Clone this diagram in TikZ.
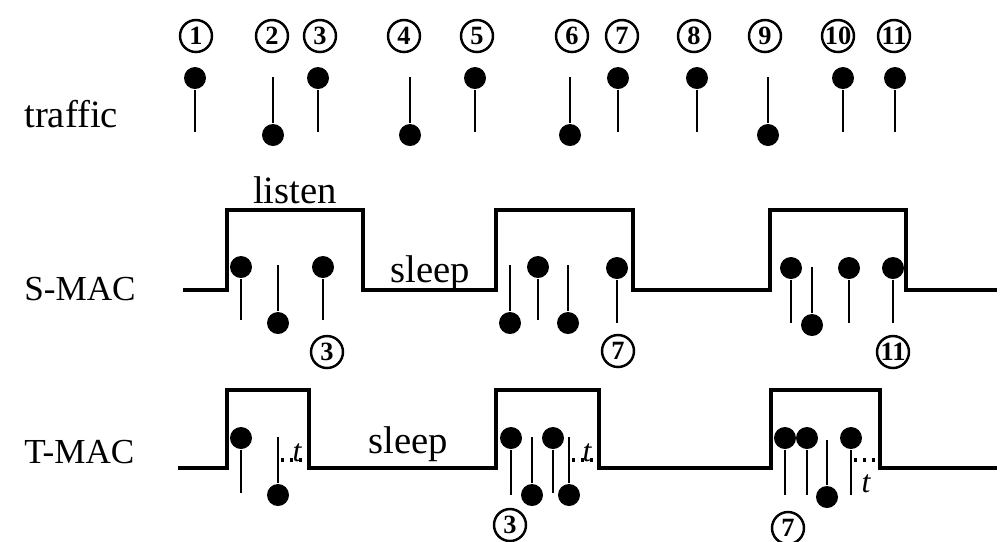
\documentclass[tikz,border=0pt]{standalone}
\usepackage{fontspec}
\setmainfont{Liberation Serif}
\usetikzlibrary{positioning}

\begin{document}
\begin{tikzpicture}[x=0.1mm, y=-0.1mm, line width=0.75pt]

\tikzstyle{b} = [fill, shape=circle, inner sep=0pt, minimum size=2.2mm]
\tikzstyle{n} = [draw, shape=circle, inner sep=0pt, minimum size=3.2mm, line width=0.7pt, font=\fontsize{7.5}{8}\selectfont\bfseries]
\tikzstyle{w} = [line width=1pt]
\tikzstyle{lab} = [anchor=base west, inner sep=0pt, font=\fontsize{10}{12}\selectfont]
\tikzstyle{txt} = [anchor=base, inner sep=0pt, font=\fontsize{11}{13}\selectfont]
\tikzstyle{tt} = [anchor=base, inner sep=0pt, font=\fontsize{9}{10}\selectfont\itshape]
\tikzstyle{d} = [line width=0.9pt, dash pattern=on 0.9pt off 1.6pt]

\useasboundingbox (0,0) rectangle (1003,541);

% row names
\node[lab, font=\fontsize{11}{13}\selectfont] (traffic) at (23,127) {traffic};
\node[lab] (smac) at (23,300) {S-MAC};
\node[lab] (tmac) at (23,463) {T-MAC};

% packet numbers
\node[n] (c1) at (196,36) {1};
\node[n] (c2) at (272,36) {2};
\node[n] (c3) at (320,36) {3};
\node[n] (c4) at (404,36) {4};
\node[n] (c5) at (477,36) {5};
\node[n] (c6) at (572,36) {6};
\node[n] (c7) at (622,36) {7};
\node[n] (c8) at (694,36) {8};
\node[n] (c9) at (765,36) {9};
\node[n] (c10) at (838,36) {10};
\node[n] (c11) at (894,36) {11};

% traffic: ball on top = send, ball below = receive
\node[b] (t1) at (195,78) {};  \coordinate (t1e) at (195,132);  \draw (t1) -- (t1e);
\coordinate (t2s) at (273,77); \node[b] (t2) at (273,135) {};   \draw (t2s) -- (t2);
\node[b] (t3) at (318,78) {};  \coordinate (t3e) at (318,132);  \draw (t3) -- (t3e);
\coordinate (t4s) at (410,77); \node[b] (t4) at (410,135) {};   \draw (t4s) -- (t4);
\node[b] (t5) at (475,78) {};  \coordinate (t5e) at (475,132);  \draw (t5) -- (t5e);
\coordinate (t6s) at (570,77); \node[b] (t6) at (570,135) {};   \draw (t6s) -- (t6);
\node[b] (t7) at (618,78) {};  \coordinate (t7e) at (618,132);  \draw (t7) -- (t7e);
\node[b] (t8) at (697,78) {};  \coordinate (t8e) at (697,132);  \draw (t8) -- (t8e);
\coordinate (t9s) at (768,77); \node[b] (t9) at (768,135) {};   \draw (t9s) -- (t9);
\node[b] (t10) at (843,78) {}; \coordinate (t10e) at (843,132); \draw (t10) -- (t10e);
\node[b] (t11) at (895,78) {}; \coordinate (t11e) at (895,132); \draw (t11) -- (t11e);

% S-MAC: fixed listen/sleep schedule
\draw[w] (183,290) -- (227,290) -- (227,210) -- (363,210) -- (363,290) -- (496,290)
    -- (496,210) -- (633,210) -- (633,290) -- (770,290) -- (770,210) -- (906,210)
    -- (906,290) -- (997,290);
\node[txt] (listen) at (295,203) {listen};
\node[txt] (ssleep) at (430,282) {sleep};

\node[b] (s1) at (241,267) {};  \coordinate (s1e) at (241,320);  \draw (s1) -- (s1e);
\coordinate (s2s) at (278,265); \node[b] (s2) at (278,323) {};   \draw (s2s) -- (s2);
\node[b] (s3) at (323,267) {};  \coordinate (s3e) at (323,320);  \draw (s3) -- (s3e);
\coordinate (s4s) at (510,265); \node[b] (s4) at (510,323) {};   \draw (s4s) -- (s4);
\node[b] (s5) at (538,267) {};  \coordinate (s5e) at (538,320);  \draw (s5) -- (s5e);
\coordinate (s6s) at (568,265); \node[b] (s6) at (568,323) {};   \draw (s6s) -- (s6);
\node[b] (s7) at (617,268) {};  \coordinate (s7e) at (617,323);  \draw (s7) -- (s7e);
\node[b] (s8) at (791,268) {};  \coordinate (s8e) at (791,323);  \draw (s8) -- (s8e);
\coordinate (s9s) at (812,267); \node[b] (s9) at (812,325) {};   \draw (s9s) -- (s9);
\node[b] (s10) at (849,268) {}; \coordinate (s10e) at (849,323); \draw (s10) -- (s10e);
\node[b] (s11) at (893,268) {}; \coordinate (s11e) at (893,323); \draw (s11) -- (s11e);

\node[n] (sc3) at (327,352) {3};
\node[n] (sc7) at (618,351) {7};
\node[n] (sc11) at (893,352) {11};

% T-MAC: listen period ends after timeout t
\draw[w] (178,468) -- (227,468) -- (227,390) -- (309,390) -- (309,468) -- (496,468)
    -- (496,390) -- (599,390) -- (599,468) -- (771,468) -- (771,390) -- (880,390)
    -- (880,468) -- (997,468);
\node[txt] (tsleep) at (408,453) {sleep};

\node[b] (m1) at (241,438) {};  \coordinate (m1e) at (241,493);  \draw (m1) -- (m1e);
\coordinate (m2s) at (278,437); \node[b] (m2) at (278,495) {};   \draw (m2s) -- (m2);
\node[b] (m3) at (511,438) {};  \coordinate (m3e) at (511,495);  \draw (m3) -- (m3e);
\coordinate (m4s) at (532,437); \node[b] (m4) at (532,495) {};   \draw (m4s) -- (m4);
\node[b] (m5) at (553,438) {};  \coordinate (m5e) at (553,493);  \draw (m5) -- (m5e);
\coordinate (m6s) at (569,437); \node[b] (m6) at (569,495) {};   \draw (m6s) -- (m6);
\node[b] (m7) at (785,438) {};  \coordinate (m7e) at (785,495);  \draw (m7) -- (m7e);
\node[b] (m8) at (807,438) {};  \coordinate (m8e) at (807,495);  \draw (m8) -- (m8e);
\coordinate (m9s) at (827,440); \node[b] (m9) at (827,497) {};   \draw (m9s) -- (m9);
\node[b] (m10) at (851,438) {}; \coordinate (m10e) at (851,495); \draw (m10) -- (m10e);

% timeouts
\coordinate (d1a) at (281,460); \coordinate (d1b) at (307,460); \draw[d] (d1a) -- (d1b);
\node[tt] (to1) at (297,461) {t};
\coordinate (d2a) at (572,460); \coordinate (d2b) at (598,460); \draw[d] (d2a) -- (d2b);
\node[tt] (to2) at (587,461) {t};
\coordinate (d3a) at (854,460); \coordinate (d3b) at (879,460); \draw[d] (d3a) -- (d3b);
\node[tt] (to3) at (866,492) {t};

\node[n] (mc3) at (510,525) {3};
\node[n] (mc7) at (788,528) {7};

\end{tikzpicture}
\end{document}
